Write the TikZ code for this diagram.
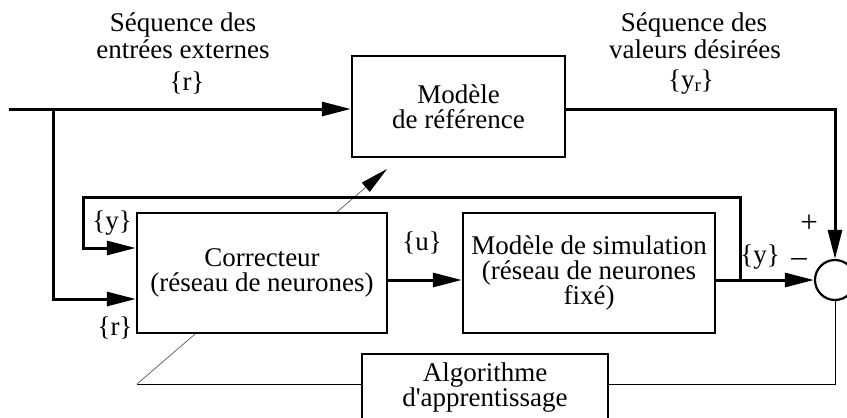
\documentclass[tikz,border=0pt]{standalone}
\usepackage{fontspec}
\setmainfont{Liberation Serif}
\usetikzlibrary{arrows.meta}
\begin{document}
\begin{tikzpicture}[x=1pt,y=-1pt,
  blk/.style={draw, line width=2.4pt, fill=white, align=center, inner sep=0pt,
    font=\fontsize{27}{25}\selectfont},
  sig/.style={line width=3pt},
  arr/.style={sig, -{Triangle[length=29pt,width=14pt]}},
  thinl/.style={line width=1pt},
  lbl/.style={inner sep=0pt, anchor=base, font=\fontsize{27}{25}\selectfont},
  sgn/.style={inner sep=0pt, font=\fontsize{31}{25}\selectfont}]
\clip (0,0) rectangle (847,418);
\useasboundingbox (0,0) rectangle (847,418);

% learning algorithm block and its thin feedback to the controller
\node[blk, minimum width=246pt, minimum height=67pt] (alg) at (485,387.5) {Algorithme\\d\textquotesingle apprentissage};
\coordinate (bl) at (137,384);
\coordinate (tip) at (387,169);
\draw[thinl] (alg.west |- bl) -- (bl);
\draw[line width=0.7pt, draw=black!65, -{Triangle[length=28pt,width=12pt,color=black]}] (bl) -- (tip);

% blocks
\node[blk, minimum width=213pt, minimum height=101pt] (ref) at (458.5,106.5) {Modèle\\de référence};
\node[blk, minimum width=250pt, minimum height=120pt] (cor) at (262,273) {Correcteur\\(réseau de neurones)};
\node[blk, minimum width=252pt, minimum height=120pt] (sim) at (589,273) {Modèle de simulation\\(réseau de neurones\\fixé)};
\node[circle, draw, line width=2.2pt, fill=white, minimum size=40pt, inner sep=0pt] (sum) at (835,280) {};

% coordinates
\coordinate (in) at (9,109);
\coordinate (j) at (53,109);
\coordinate (fb) at (740,280);
\coordinate (fbc) at (83,197);

% connectors
\draw[arr] (in) -- (ref.west |- in);
\draw[arr] (ref.east |- in) -| (sum.north);
\draw[arr] (j) |- (cor.west |- 0,299);
\draw[arr] (fb) |- (fbc) |- (cor.west |- 0,248);
\draw[arr] (cor.east |- 0,280) -- (sim.west |- 0,280);
\draw[arr] (sim.east |- 0,280) -- (sum.west);
\draw[thinl] (sum.south) |- (alg.east |- bl);

% labels
\node[lbl] (t1) at (183,31) {Séquence des};
\node[lbl] (t2) at (183,58) {entrées externes};
\node[lbl] (t3) at (187,90) {\{r\}};
\node[lbl] (t4) at (694,31) {Séquence des};
\node[lbl] (t5) at (695,58) {valeurs désirées};
\node[lbl] (t6) at (691,88) {\{y\raisebox{-0.25ex}{\fontsize{19}{19}\selectfont r}\}};
\node[lbl] (ly) at (112,229) {\{y\}};
\node[lbl] (lr) at (115,335) {\{r\}};
\node[lbl] (lu) at (422,250) {\{u\}};
\node[lbl] (ly2) at (760,263) {\{y\}};
\node[sgn] (plus) at (809,224) {+};
\node[sgn] (minus) at (799,262) {–};
\end{tikzpicture}
\end{document}
